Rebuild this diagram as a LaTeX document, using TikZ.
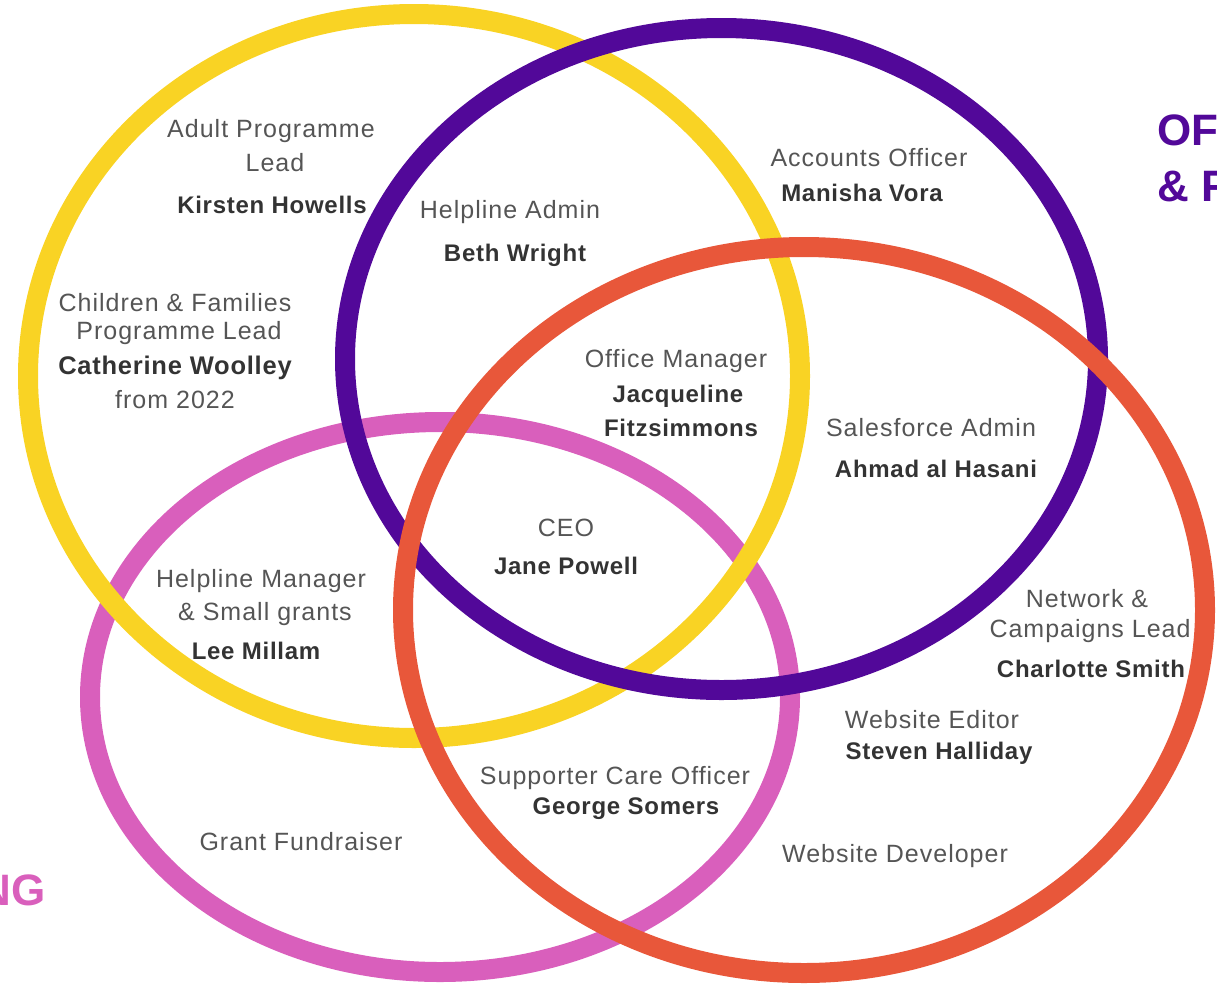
\documentclass[tikz,border=0pt]{standalone}
\usepackage{fontspec}
\setmainfont{Liberation Sans}
\definecolor{cyellow}{HTML}{F9D324}
\definecolor{cpurple}{HTML}{520899}
\definecolor{corange}{HTML}{E8573A}
\definecolor{cpink}{HTML}{D95FBC}
\definecolor{ctitle}{HTML}{555555}
\definecolor{cname}{HTML}{333333}
\newfontfamily\rolefont[LetterSpace=4]{Liberation Sans}
\newfontfamily\personfont[LetterSpace=3]{Liberation Sans}
\tikzset{
  ring/.style={line width=20pt},
  role/.style={inner sep=0pt, text=ctitle, font=\rolefont\fontsize{25}{28}\selectfont},
  person/.style={inner sep=0pt, text=cname, font=\personfont\fontsize{24}{27}\selectfont\bfseries},
  bigperson/.style={inner sep=0pt, text=cname, font=\personfont\fontsize{25.5}{28}\selectfont\bfseries},
  heading/.style={inner sep=0pt, font=\fontsize{44}{48}\selectfont\bfseries},
}
\begin{document}
\begin{tikzpicture}[x=1pt,y=-1pt]
\useasboundingbox (0,0) rectangle (1217,983);
% rings (order: pink, yellow, purple, orange)
\draw[ring, cpink] (440,697) ellipse [x radius=350, y radius=275];
\draw[ring, cyellow] (414,376) ellipse [x radius=386, y radius=362];
\draw[ring, cpurple] (721.5,359) ellipse [x radius=376.5, y radius=331];
\draw[ring, corange] (804,610) ellipse [x radius=401, y radius=363];
% headings (cut by page edge)
\node[heading, text=cpurple, anchor=west] (h1) at (1157,130) {OF};
\node[heading, text=cpurple, anchor=west] (h2) at (1157,186) {\& F};
\node[heading, text=cpink, anchor=east] (h3) at (46,890) {NG};
% labels
\node[role] (t1a) at (271,131) {Adult Programme};
\node[role] (t1b) at (275,163) {Lead};
\node[person] (n1) at (272,205) {Kirsten Howells};
\node[role] (t2) at (510,212) {Helpline Admin};
\node[person] (n2) at (515,255) {Beth Wright};
\node[role] (t3) at (869,158) {Accounts Officer};
\node[person] (n3) at (862,193) {Manisha Vora};
\node[role] (t4a) at (175,303) {Children \& Families};
\node[role] (t4b) at (179,333) {Programme Lead};
\node[bigperson] (n4) at (175,368) {Catherine Woolley};
\node[role] (t4c) at (175,400) {from 2022};
\node[role] (t5) at (676,361) {Office Manager};
\node[person] (n5a) at (678,396) {Jacqueline};
\node[person] (n5b) at (681,428) {Fitzsimmons};
\node[role] (t6) at (931,428) {Salesforce Admin};
\node[person] (n6) at (936,469) {Ahmad al Hasani};
\node[role] (t7) at (566,528) {CEO};
\node[person] (n7) at (566,566) {Jane Powell};
\node[role] (t8a) at (261,581) {Helpline Manager};
\node[role] (t8b) at (265,614) {\& Small grants};
\node[person] (n8) at (256,651) {Lee Millam};
\node[role] (t9a) at (1087,599) {Network \&};
\node[role] (t9b) at (1090,631) {Campaigns Lead};
\node[person] (n9) at (1091,669) {Charlotte Smith};
\node[role] (t10) at (932,720) {Website Editor};
\node[person] (n10) at (939,753) {Steven Halliday};
\node[role] (t11) at (615,778) {Supporter Care Officer};
\node[person] (n11) at (626,809) {George Somers};
\node[role] (t12) at (301,842) {Grant Fundraiser};
\node[role] (t13) at (895,856) {Website Developer};
\end{tikzpicture}
\end{document}
